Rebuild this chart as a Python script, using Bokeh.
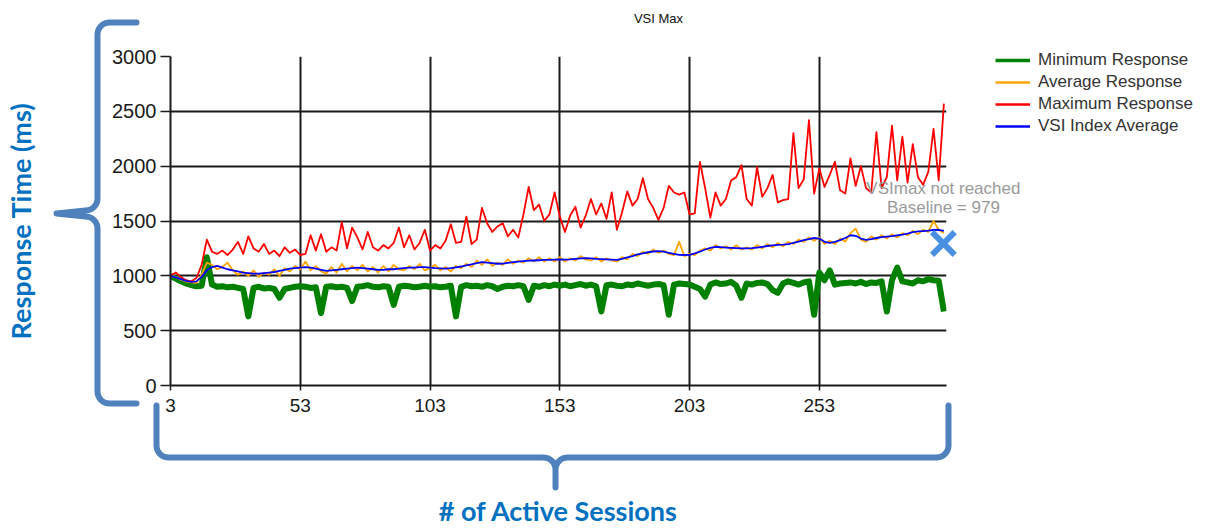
import math
from bokeh.plotting import figure
from bokeh.models import Range1d, FixedTicker, Legend, LegendItem, Label
from bokeh.core.properties import value
from bokeh.embed import file_html
from bokeh.resources import INLINE

# ---------------- data ----------------
sessions = list(range(3, 302, 2))

min_response = [
    1000, 975, 950, 930, 915, 905, 910, 1170, 920, 900, 905, 895, 900, 890, 880, 630, 890, 900, 885, 890, 880, 800, 880, 890, 900, 905,
    900, 890, 895, 660, 900, 905, 895, 900, 890, 770, 900, 905, 915, 900, 895, 905, 900, 735, 900, 910, 905, 895, 900, 910, 900,
    905, 895, 900, 910, 630, 900, 915, 905, 910, 900, 915, 905, 880, 900, 910, 905, 915, 905, 780, 910, 900, 915, 905, 920, 910,
    920, 905, 915, 925, 910, 920, 905, 675, 915, 920, 910, 905, 920, 915, 930, 920, 910, 920, 925, 915, 645, 920, 930, 925, 920,
    900, 880, 810, 920, 940, 925, 930, 945, 910, 800, 930, 920, 935, 940, 925, 870, 845, 930, 950, 935, 920, 940, 950, 645, 1030,
    960, 1050, 920, 930, 935, 940, 930, 945, 925, 940, 935, 950, 675, 960, 1075, 950, 940, 930, 960, 950, 970, 960, 955, 675,
]

avg_response = [
    1000, 990, 965, 950, 940, 935, 1010, 1120, 1100, 1060, 1080, 1120, 1050, 1010, 1040, 1000, 1050, 990, 1030, 1010, 1060, 1000, 1070, 1040, 1090, 1060,
    1130, 1050, 1090, 1040, 1020, 1080, 1030, 1110, 1040, 1090, 1050, 1100, 1040, 1080, 1030, 1090, 1040, 1100, 1060, 1050, 1090, 1060, 1110, 1050, 1070,
    1100, 1050, 1080, 1040, 1090, 1070, 1110, 1080, 1140, 1100, 1150, 1090, 1120, 1100, 1150, 1110, 1140, 1120, 1160, 1130, 1170, 1130, 1160, 1130, 1170,
    1130, 1160, 1140, 1180, 1150, 1140, 1170, 1130, 1160, 1140, 1130, 1170, 1150, 1200, 1180, 1220, 1200, 1240, 1210, 1230, 1200, 1190, 1310, 1180, 1200,
    1190, 1230, 1250, 1230, 1280, 1250, 1270, 1240, 1280, 1240, 1260, 1240, 1280, 1250, 1290, 1260, 1300, 1270, 1310, 1290, 1330, 1310, 1350, 1320, 1350,
    1290, 1320, 1290, 1340, 1310, 1390, 1430, 1330, 1310, 1360, 1330, 1370, 1340, 1380, 1350, 1390, 1370, 1410, 1380, 1420, 1400, 1500, 1420, 1390,
]

max_response = [
    1000, 1030, 990, 960, 950, 980, 1100, 1330, 1220, 1200, 1230, 1190, 1240, 1310, 1200, 1360, 1250, 1220, 1290, 1200, 1230, 1180, 1260, 1210, 1240, 1190,
    1200, 1370, 1230, 1380, 1220, 1260, 1230, 1490, 1250, 1440, 1350, 1240, 1400, 1260, 1230, 1280, 1250, 1300, 1440, 1260, 1370, 1240, 1300, 1420, 1230,
    1280, 1250, 1320, 1470, 1300, 1310, 1540, 1290, 1330, 1620, 1480, 1400, 1450, 1480, 1360, 1420, 1350, 1560, 1810, 1600, 1650, 1500, 1560, 1760, 1540,
    1400, 1550, 1630, 1440, 1550, 1700, 1560, 1660, 1520, 1760, 1420, 1580, 1770, 1640, 1700, 1890, 1700, 1620, 1510, 1620, 1820, 1760, 1740, 1760, 1560,
    1570, 2040, 1800, 1530, 1760, 1640, 1700, 1870, 1900, 2010, 1700, 1640, 1990, 1720, 1800, 1920, 1670, 1690, 1700, 2300, 1800, 1880, 2420, 1750, 1980,
    1810, 1920, 2040, 1780, 1750, 2070, 1820, 2000, 1800, 1760, 2310, 1800, 1900, 2370, 1870, 2270, 1850, 2200, 1900, 1830, 1950, 2340, 1870, 2570,
]

vsi_index_avg = [
    1000, 985, 970, 955, 945, 950, 990, 1050, 1080, 1090, 1075, 1060, 1050, 1040, 1030, 1025, 1020, 1020, 1025, 1030, 1035, 1045, 1055, 1065, 1070, 1075,
    1080, 1075, 1065, 1055, 1045, 1050, 1055, 1060, 1065, 1070, 1075, 1070, 1065, 1060, 1055, 1055, 1060, 1060, 1065, 1070, 1075, 1075, 1080, 1080, 1075,
    1070, 1068, 1065, 1070, 1078, 1085, 1095, 1105, 1115, 1125, 1120, 1115, 1110, 1112, 1118, 1125, 1130, 1135, 1138, 1140, 1142, 1145, 1145, 1148, 1150,
    1148, 1150, 1155, 1160, 1162, 1160, 1155, 1152, 1150, 1148, 1145, 1155, 1168, 1180, 1195, 1205, 1215, 1222, 1225, 1220, 1210, 1200, 1192, 1190, 1192,
    1205, 1220, 1240, 1255, 1265, 1262, 1258, 1255, 1252, 1250, 1250, 1252, 1258, 1265, 1272, 1278, 1282, 1285, 1290, 1300, 1312, 1325, 1335, 1345, 1340,
    1310, 1300, 1310, 1325, 1345, 1370, 1365, 1340, 1328, 1335, 1345, 1352, 1358, 1362, 1368, 1375, 1385, 1398, 1405, 1408, 1412, 1418, 1420, 1410,
]

series_names = ["Minimum Response", "Average Response", "Maximum Response", "VSI Index Average"]
x_ticks = [3, 53, 103, 153, 203, 253]
y_ticks = [0, 500, 1000, 1500, 2000, 2500, 3000]
vsimax_x = [300.8]
vsimax_y = [1300]
baseline = 979
note_lines = ["VSImax not reached", "Baseline = %d" % baseline]
note_y = [1800, 1627]

# ---------------- layout constants (pixels) ----------------
W, H = 1212, 529
FL, FR, FT, FB = 170, 946, 56, 386          # frame edges
X0, X1, Y0, Y1 = 3, 302, 0, 3000             # data ranges

# ---------------- main chart ----------------
p = figure(width=W, height=H, output_backend="svg", toolbar_location=None, title=None,
           x_range=Range1d(X0, X1), y_range=Range1d(Y0, Y1),
           min_border_left=FL, min_border_right=W - FR, min_border_top=FT, min_border_bottom=H - FB)
p.outline_line_color = None
p.background_fill_color = "white"
p.border_fill_color = "white"

TICK_FONT = "Liberation Sans"
for ax in (p.xaxis[0], p.yaxis[0]):
    ax.axis_line_color = "#1a1a1a"
    ax.axis_line_width = 2
    ax.major_tick_line_color = "#1a1a1a"
    ax.major_tick_line_width = 1.5
    ax.major_tick_in = 0
    ax.minor_tick_line_color = None
    ax.major_label_text_font = TICK_FONT
    ax.major_label_text_color = "#1a1a1a"
    ax.axis_label_text_font = "Lato"
    ax.axis_label_text_font_style = "bold"
    ax.axis_label_text_font_size = "27px"
    ax.axis_label_text_color = "#0070C0"

p.xaxis.ticker = FixedTicker(ticks=x_ticks)
p.yaxis.ticker = FixedTicker(ticks=y_ticks)
p.xaxis.major_label_text_font_size = "19px"
p.yaxis.major_label_text_font_size = "20px"
p.xaxis.major_tick_out = 5
p.xaxis.major_label_standoff = 8
p.yaxis.major_tick_out = 10
p.yaxis.major_label_standoff = 4
p.xaxis.axis_label = "# of Active Sessions"
p.yaxis.axis_label = "Response Time (ms)"
p.xaxis.axis_label_standoff = 79
p.yaxis.axis_label_standoff = 72

p.xgrid.ticker = FixedTicker(ticks=x_ticks)
p.ygrid.ticker = FixedTicker(ticks=y_ticks)
for g in (p.xgrid[0], p.ygrid[0]):
    g.grid_line_color = "#1a1a1a"
    g.grid_line_width = 2
    g.grid_line_alpha = 1

colors = ["#008000", "#FFA500", "#FF0000", "#0000FF"]
widths = [6, 1.8, 1.8, 1.8]
series = [min_response, avg_response, max_response, vsi_index_avg]
for ys, c, w in zip(series, colors, widths):
    p.line(sessions, ys, line_color=c, line_width=w, line_join="round")

p.add_layout(Label(x=658, y=18, x_units="canvas", y_units="canvas", text="VSI Max",
                   text_align="center", text_baseline="middle",
                   text_font=TICK_FONT, text_font_size="13px", text_color="#111111"), "above")

# ---------------- overlay (same data mapping, full-canvas frame, unclipped) ----------------
kx = (FR - FL) / (X1 - X0)
ky = (FB - FT) / (Y1 - Y0)
ox0 = X0 - FL / kx
ox1 = X1 + (W - FR) / kx
oy0 = Y0 - (H - FB) / ky
oy1 = Y1 + FT / ky

def px2x(v):
    return X0 + (v - FL) / kx

def py2y(v):
    return Y0 + (FB - v) / ky

ov = figure(width=W, height=H, output_backend="svg", toolbar_location=None, title=None,
            x_range=Range1d(ox0, ox1), y_range=Range1d(oy0, oy1),
            x_axis_type=None, y_axis_type=None, min_border=0)
ov.outline_line_color = None
ov.background_fill_color = None
ov.border_fill_color = None
ov.styles = {"position": "absolute", "left": "0px", "top": "0px"}

def arc(cx, cy, r, a0, a1, n=10):
    pts = []
    for i in range(n + 1):
        a = math.radians(a0 + (a1 - a0) * i / n)
        pts.append((cx + r * math.cos(a), cy + r * math.sin(a)))
    return pts

left_brace = [(136, 22), (109, 22)] + arc(109, 34, 12, -90, -180) + [(97, 198)] + arc(85, 198, 12, 0, 90) \
    + [(56, 213)] + arc(85, 228, 12, -90, 0) + [(97, 391)] + arc(109, 391, 12, 180, 90) + [(136, 403)]
bottom_brace = [(156, 405), (156, 445)] + arc(168, 445, 12, 180, 90) + [(543, 457)] + arc(543, 469, 12, -90, 0) \
    + [(555, 487)] + arc(567, 469, 12, 180, 270) + [(936, 457)] + arc(936, 445, 12, 90, 0) + [(948, 405)]

for path in (left_brace, bottom_brace):
    ov.line([px2x(q[0]) for q in path], [py2y(q[1]) for q in path],
            line_color="#4F81BD", line_width=6, line_join="round", line_cap="round")

ov.text(x=vsimax_x * 2, y=note_y, text=note_lines, text_align="center", text_baseline="middle",
        text_font=value(TICK_FONT), text_font_size="17px", text_color="#9a9a9a")
ov.scatter(vsimax_x, vsimax_y, marker="x", size=32, line_width=6, line_color="#4A90E2")

# legend keys (single-point lines draw nothing in the plot, only the legend swatch)
keys = [ov.line([X0], [Y0], line_color=c, line_width=3.5 if i == 0 else 2.5)
        for i, c in enumerate(colors)]
legend = Legend(items=[LegendItem(label=n, renderers=[r]) for n, r in zip(series_names, keys)],
                location=(995, 392), border_line_color=None,
                background_fill_alpha=0, padding=0, margin=0, spacing=0,
                glyph_width=35, glyph_height=22, label_height=22, label_standoff=8,
                label_text_font=TICK_FONT, label_text_font_size="17px",
                label_text_color="#333333")
ov.add_layout(legend)

open("out.html", "w").write(file_html([p, ov], INLINE))
